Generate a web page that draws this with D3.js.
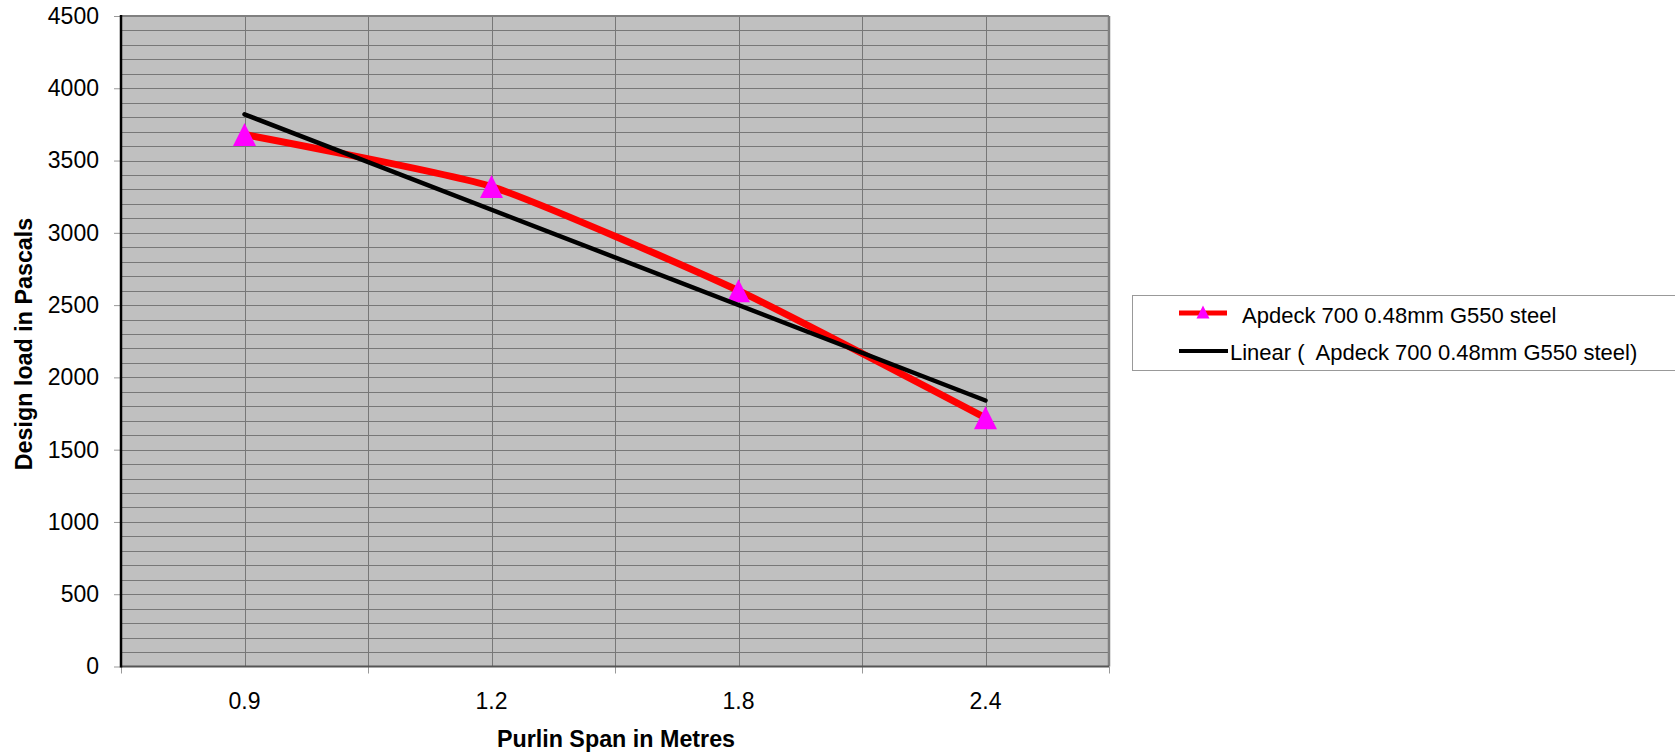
<!DOCTYPE html>
<html>
<head>
<meta charset="utf-8">
<script src="https://cdn.jsdelivr.net/npm/d3@7"></script>
<style>
  html, body { margin: 0; padding: 0; background: #fff; }
  svg { display: block; font-family: Arial, "Liberation Sans", sans-serif; }
</style>
</head>
<body>
<svg id="chart" width="1675" height="755"></svg>
<script>
// ---- data ----
const categories = ["0.9", "1.2", "1.8", "2.4"];
const loads = [3680, 3320, 2600, 1720];
const yTicks = [0, 500, 1000, 1500, 2000, 2500, 3000, 3500, 4000, 4500];
const seriesName = "Apdeck 700 0.48mm G550 steel";
const trendName = "Linear (  Apdeck 700 0.48mm G550 steel)";
const xTitle = "Purlin Span in Metres";
const yTitle = "Design load in Pascals";

// ---- layout ----
const svg = d3.select("#chart");
const L = 121, R = 1109, T = 16, B = 666.5;

const x = d3.scaleBand().domain(categories).range([L, R]).padding(0);
const y = d3.scaleLinear().domain([0, 4500]).range([B, T]);
const cx = c => x(c) + x.bandwidth() / 2;

// plot background
svg.append("rect").attr("x", L).attr("y", T).attr("width", R - L).attr("height", B - T)
  .attr("fill", "#c0c0c0");

// horizontal gridlines (every 100)
const gridY = y.ticks(45).filter(v => v > 0 && v < 4500);
svg.append("g").selectAll("line").data(gridY).join("line")
  .attr("x1", L).attr("x2", R)
  .attr("y1", d => Math.round(y(d)) + 0.5).attr("y2", d => Math.round(y(d)) + 0.5)
  .attr("stroke", "#777").attr("stroke-width", 1);

// vertical gridlines: band boundaries and centres
const vx = [];
categories.forEach((c, i) => { if (i > 0) vx.push(x(c)); vx.push(cx(c)); });
svg.append("g").selectAll("line").data(vx).join("line")
  .attr("x1", d => Math.round(d) + 0.5).attr("x2", d => Math.round(d) + 0.5)
  .attr("y1", T).attr("y2", B)
  .attr("stroke", "#777").attr("stroke-width", 1);

// borders
svg.append("line").attr("x1", L).attr("x2", R).attr("y1", T).attr("y2", T)
  .attr("stroke", "#808080").attr("stroke-width", 2);
svg.append("line").attr("x1", R).attr("x2", R).attr("y1", T).attr("y2", B)
  .attr("stroke", "#808080").attr("stroke-width", 2.5);

// y axis
const yAxis = d3.axisLeft(y).tickValues(yTicks).tickFormat(d3.format("d"))
  .tickSize(7).tickSizeOuter(0).tickPadding(15);
const gy = svg.append("g").attr("transform", `translate(${L},0)`).call(yAxis);
gy.select(".domain").remove();
gy.selectAll(".tick line").attr("stroke", "#999").attr("stroke-width", 1);
gy.selectAll(".tick text").attr("font-size", 23).attr("fill", "#000")
  .attr("font-family", "Arial, 'Liberation Sans', sans-serif");

// x axis labels
const xAxis = d3.axisBottom(x).tickSize(0).tickPadding(26);
const gx = svg.append("g").attr("transform", `translate(0,${B})`).call(xAxis);
gx.select(".domain").remove();
gx.selectAll(".tick text").attr("font-size", 23).attr("fill", "#000")
  .attr("font-family", "Arial, 'Liberation Sans', sans-serif");

// x boundary ticks
const bx = categories.map(c => x(c)).concat([R]);
svg.append("g").selectAll("line").data(bx).join("line")
  .attr("x1", d => Math.round(d) + 0.5).attr("x2", d => Math.round(d) + 0.5)
  .attr("y1", B).attr("y2", B + 7)
  .attr("stroke", "#999").attr("stroke-width", 1);

// axis lines
svg.append("line").attr("x1", L).attr("x2", R).attr("y1", B).attr("y2", B)
  .attr("stroke", "#555").attr("stroke-width", 2);
svg.append("line").attr("x1", L).attr("x2", L).attr("y1", T - 1).attr("y2", B + 1)
  .attr("stroke", "#000").attr("stroke-width", 2.5);

// data line (smoothed)
const pts = categories.map((c, i) => [cx(c), y(loads[i])]);
svg.append("path").datum(pts)
  .attr("d", d3.line().curve(d3.curveCardinal.tension(0.5)))
  .attr("fill", "none").attr("stroke", "#ff0000").attr("stroke-width", 7)
  .attr("stroke-linejoin", "round");

// markers
const tri = (px, py, s) => `M${px},${py - s / 2}L${px + s / 2},${py + s / 2}L${px - s / 2},${py + s / 2}Z`;
svg.append("g").selectAll("path").data(pts).join("path")
  .attr("d", d => tri(d[0], d[1], 23))
  .attr("fill", "#ff00ff");

// linear trendline (least squares on category index)
const xi = categories.map((c, i) => i + 1);
const mx = d3.mean(xi), my = d3.mean(loads);
const slope = d3.sum(xi.map((v, i) => (v - mx) * (loads[i] - my))) / d3.sum(xi.map(v => (v - mx) ** 2));
const icpt = my - slope * mx;
const tPts = [[cx(categories[0]), y(icpt + slope * xi[0])],
              [cx(categories[categories.length - 1]), y(icpt + slope * xi[xi.length - 1])]];
svg.append("path").datum(tPts)
  .attr("d", d3.line())
  .attr("fill", "none").attr("stroke", "#000").attr("stroke-width", 4.5)
  .attr("stroke-linecap", "round");

// axis titles
svg.append("text").attr("x", 616).attr("y", 747).attr("text-anchor", "middle")
  .attr("font-size", 23.3).attr("font-weight", "bold").text(xTitle);
svg.append("text").attr("transform", "translate(32,344) rotate(-90)").attr("text-anchor", "middle")
  .attr("font-size", 23.3).attr("font-weight", "bold").text(yTitle);

// legend
const lg = svg.append("g");
lg.append("rect").attr("x", 1132.5).attr("y", 295.5).attr("width", 600).attr("height", 75)
  .attr("fill", "#fff").attr("stroke", "#999").attr("stroke-width", 1);
lg.append("line").attr("x1", 1179).attr("x2", 1227).attr("y1", 313).attr("y2", 313)
  .attr("stroke", "#ff0000").attr("stroke-width", 5);
lg.append("path").attr("d", tri(1203, 312, 13)).attr("fill", "#ff00ff");
lg.append("text").attr("x", 1242).attr("y", 323).attr("font-size", 22).text(seriesName);
lg.append("line").attr("x1", 1179).attr("x2", 1228).attr("y1", 351).attr("y2", 351)
  .attr("stroke", "#000").attr("stroke-width", 4);
lg.append("text").attr("x", 1230).attr("y", 360).attr("font-size", 22).attr("xml:space", "preserve")
  .style("white-space", "pre").text(trendName);
</script>
</body>
</html>
